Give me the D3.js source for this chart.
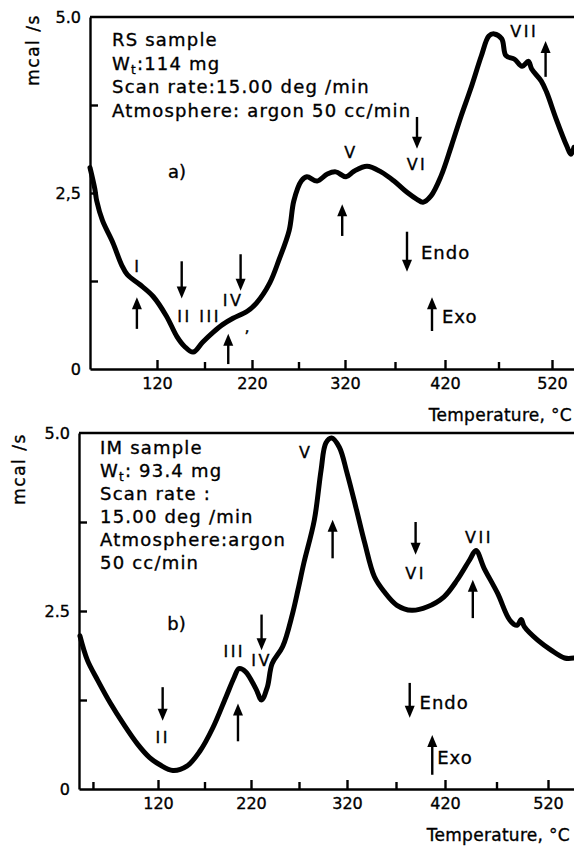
<!DOCTYPE html>
<html>
<head>
<meta charset="utf-8">
<script src="https://cdn.jsdelivr.net/npm/d3@7"></script>
<style>
  body { margin: 0; background: #fff; }
  svg { display: block; background: #fff; font-family: "DejaVu Sans", sans-serif; }
  svg text { stroke: #000; stroke-width: 0.35px; }
</style>
</head>
<body>
<svg id="chart"></svg>
<script>
// DSC traces (temperature in deg C, heat flow in mcal/s)
const tempA = [50, 55, 57, 63, 74, 83, 89, 102, 116, 130, 141, 149, 158, 168, 179, 189, 200, 215, 225, 239, 249, 260,
  265, 273, 279, 290, 301, 310, 321, 329, 342, 356, 369, 382, 392, 398, 406, 416, 426, 435, 444, 454, 461, 466, 473,
  477, 485, 492, 498, 501, 510, 515, 524, 534, 538, 541];
const heatA = [2.86, 2.56, 2.39, 2.11, 1.79, 1.48, 1.34, 1.2, 1.03, 0.75, 0.46, 0.32, 0.24, 0.38, 0.52, 0.63, 0.72, 0.82,
  0.94, 1.22, 1.55, 1.97, 2.39, 2.67, 2.73, 2.67, 2.77, 2.8, 2.73, 2.81, 2.88, 2.8, 2.67, 2.51, 2.41, 2.37, 2.46, 2.74,
  3.17, 3.59, 3.98, 4.45, 4.73, 4.76, 4.69, 4.45, 4.4, 4.3, 4.37, 4.26, 4.09, 3.93, 3.55, 3.17, 3.05, 3.15];

const tempB = [36, 44, 55, 69, 83, 98, 111, 122, 136, 151, 165, 179, 193, 202, 207, 214, 225, 231, 237, 242, 253, 263,
  269, 275, 286, 293, 298, 304, 312, 320, 329, 338, 348, 358, 371, 386, 402, 419, 432, 444, 450, 458, 471, 483, 490,
  494, 497, 510, 523, 536, 545];
const heatB = [2.15, 1.81, 1.53, 1.2, 0.91, 0.63, 0.44, 0.34, 0.26, 0.32, 0.53, 0.86, 1.29, 1.57, 1.69, 1.65, 1.41, 1.25,
  1.43, 1.76, 2.0, 2.45, 2.8, 3.17, 3.78, 4.48, 4.86, 4.93, 4.8, 4.44, 3.96, 3.46, 2.98, 2.77, 2.58, 2.51, 2.56, 2.7,
  2.94, 3.22, 3.35, 3.1, 2.75, 2.37, 2.3, 2.38, 2.28, 2.09, 1.95, 1.84, 1.84];

const majorTicks = [120, 220, 320, 420, 520];
const minorTicksA = [170, 270, 370, 470];
const minorTicksB = [50, 170, 270, 370, 470];
const yMajor = [0, 2.5, 5.0];
const yMinor = [1.25, 3.75];
const yLabelsA = ["0", "2,5", "5.0"];
const yLabelsB = ["0", "2.5", "5.0"];

const infoA = ["RS sample", "Wt:114 mg", "Scan rate:15.00 deg /min", "Atmosphere: argon 50 cc/min"];
const infoB = ["IM sample", "Wt: 93.4 mg", "Scan rate :", "15.00 deg /min", "Atmosphere:argon", "50 cc/min"];

// peak markers: [temperature, tail value, head value]
const arrowsA = [[99, 0.57, 1.02], [146, 1.53, 1.0], [195, 0.07, 0.5], [208, 1.63, 1.11], [317, 1.89, 2.34],
  [392, 3.58, 3.13], [514, 4.15, 4.66], [382, 1.95, 1.38], [407, 0.54, 1.02]];
const labelsA = [[100, 1.46, "I"], [149, 0.74, "II"], [176, 0.74, "III"], [200, 0.97, "IV"], [216, 0.6, ","],
  [326, 3.08, "V"], [392, 2.91, "VI"], [494, 4.79, "VII"]];
const arrowsB = [[125, 1.43, 0.96], [206, 0.67, 1.2], [231, 2.45, 1.95], [305, 3.24, 3.78], [390, 3.75, 3.29],
  [447, 2.4, 2.94], [384, 1.49, 1.0], [407, 0.2, 0.76]];
const labelsB = [[125, 0.72, "II"], [202, 1.93, "III"], [231, 1.81, "IV"], [277, 4.72, "V"], [390, 3.03, "VI"],
  [453, 3.53, "VII"]];

const W = 574, H = 849;
const svg = d3.select("#chart").attr("width", W).attr("height", H);

const panels = [
  {
    temp: tempA, heat: heatA, minor: minorTicksA, yLabels: yLabelsA, info: infoA, arrows: arrowsA, labels: labelsA,
    tag: "a)", tagAt: [141, 2.81], endo: [396, 1.65], exo: [417, 0.74],
    xDomain: [50, 120, 220, 320, 420, 520, 541], xRange: [90, 157, 252, 345, 445, 552, 574],
    top: 17, bottom: 369, infoX: 112, infoY: 46, infoStep: 23.7,
    yTitle: [33, 50], xTitleAt: [572, 421]
  },
  {
    temp: tempB, heat: heatB, minor: minorTicksB, yLabels: yLabelsB, info: infoB, arrows: arrowsB, labels: labelsB,
    tag: "b)", tagAt: [140, 2.33], endo: [394, 1.21], exo: [412, 0.44],
    xDomain: [35, 120, 220, 320, 420, 520, 545], xRange: [79, 158, 251, 347, 445, 548, 574],
    top: 433, bottom: 789, infoX: 100, infoY: 454, infoStep: 23,
    yTitle: [19, 469], xTitleAt: [570, 841]
  }
];

function drawArrow(g, px, y0, y1) {
    const dir = y1 < y0 ? -1 : 1;   // -1 points up
    g.append("line")
        .attr("x1", px).attr("x2", px)
        .attr("y1", y0).attr("y2", y1 - dir * 10)
        .attr("stroke", "#000").attr("stroke-width", 2.4);
    g.append("path")
        .attr("d", `M${px},${y1} L${px - 5},${y1 - dir * 12} L${px + 5},${y1 - dir * 12}Z`)
        .attr("fill", "#000");
}

panels.forEach(p => {
    const g = svg.append("g");
    const x = d3.scaleLinear().domain(p.xDomain).range(p.xRange);
    const y = d3.scaleLinear().domain([0, 5]).range([p.bottom, p.top]);
    const left = p.xRange[0];

    // axes, ticks pointing into the plot
    g.append("g")
        .attr("transform", `translate(0,${p.bottom})`)
        .call(d3.axisBottom(x).tickValues(majorTicks).tickSize(-9).tickSizeOuter(0).tickPadding(9));
    g.append("g")
        .attr("transform", `translate(0,${p.bottom})`)
        .call(d3.axisBottom(x).tickValues(p.minor).tickSize(-7).tickSizeOuter(0).tickFormat(""))
        .select(".domain").remove();

    g.append("g")
        .attr("transform", `translate(${left},0)`)
        .call(d3.axisLeft(y).tickValues(yMajor).tickSize(0).tickSizeOuter(0).tickPadding(9)
            .tickFormat((d, i) => p.yLabels[i]));
    g.append("g")
        .attr("transform", `translate(${left},0)`)
        .call(d3.axisLeft(y).tickValues(yMinor.concat([2.5])).tickSize(-8).tickSizeOuter(0).tickFormat(""))
        .select(".domain").remove();

    g.selectAll(".domain, .tick line").attr("stroke", "#000").attr("stroke-width", 2.4);
    g.selectAll(".tick text")
        .attr("font-size", 16)
        .attr("font-family", "DejaVu Sans, sans-serif")
        .attr("fill", "#000");

    // top edge of the frame
    g.append("line")
        .attr("x1", left).attr("x2", W)
        .attr("y1", y(5)).attr("y2", y(5))
        .attr("stroke", "#000").attr("stroke-width", 2.4);

    // axis titles
    g.append("text")
        .attr("transform", `translate(${p.yTitle[0]},${p.yTitle[1]}) rotate(-90)`)
        .attr("text-anchor", "middle")
        .attr("dominant-baseline", "central")
        .attr("font-size", 17)
        .attr("letter-spacing", 1.5)
        .text("mcal /s");
    g.append("text")
        .attr("x", p.xTitleAt[0]).attr("y", p.xTitleAt[1])
        .attr("text-anchor", "end")
        .attr("font-size", 17)
        .attr("letter-spacing", 0.3)
        .text("Temperature, °C");

    // the trace
    const pts = p.temp.map((t, i) => [t, p.heat[i]]);
    g.append("path")
        .datum(pts)
        .attr("fill", "none")
        .attr("stroke", "#000")
        .attr("stroke-width", 5)
        .attr("stroke-linejoin", "round")
        .attr("stroke-linecap", "round")
        .attr("d", d3.line().x(d => x(d[0])).y(d => y(d[1])).curve(d3.curveCatmullRom.alpha(0.5)));

    // sample info block
    const info = g.append("text")
        .attr("font-size", 18)
        .attr("letter-spacing", 1.2);
    p.info.forEach((line, i) => {
        const row = info.append("tspan").attr("x", p.infoX).attr("y", p.infoY + i * p.infoStep);
        if (line.startsWith("Wt")) {
            row.text("W");
            row.append("tspan").attr("font-size", 12).attr("dy", 4).text("t");
            row.append("tspan").attr("dy", -4).text(line.slice(2));
        } else {
            row.text(line);
        }
    });

    g.append("text")
        .attr("x", x(p.tagAt[0])).attr("y", y(p.tagAt[1]))
        .attr("text-anchor", "middle").attr("dominant-baseline", "central")
        .attr("font-size", 18)
        .text(p.tag);

    // peak markers
    p.arrows.forEach(a => drawArrow(g, x(a[0]), y(a[1]), y(a[2])));
    p.labels.forEach(l => {
        g.append("text")
            .attr("x", x(l[0])).attr("y", y(l[1]))
            .attr("text-anchor", "middle").attr("dominant-baseline", "central")
            .attr("font-size", 16)
            .attr("letter-spacing", 2.5)
            .text(l[2]);
    });

    g.append("text")
        .attr("x", x(p.endo[0])).attr("y", y(p.endo[1]))
        .attr("dominant-baseline", "central")
        .attr("font-size", 18).attr("letter-spacing", 1)
        .text("Endo");
    g.append("text")
        .attr("x", x(p.exo[0])).attr("y", y(p.exo[1]))
        .attr("dominant-baseline", "central")
        .attr("font-size", 18).attr("letter-spacing", 1)
        .text("Exo");
});
</script>
</body>
</html>
